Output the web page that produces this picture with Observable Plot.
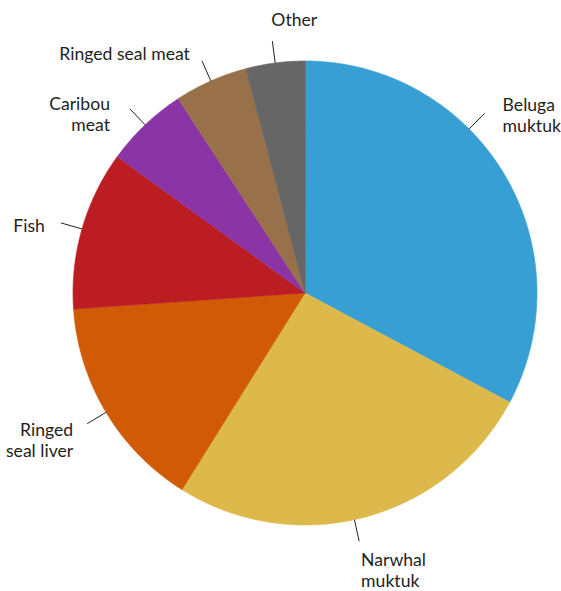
<!DOCTYPE html>
<html><head><meta charset="utf-8">
<script src="https://cdn.jsdelivr.net/npm/d3@7"></script>
<script src="https://cdn.jsdelivr.net/npm/@observablehq/plot@0.6"></script>
<style>html,body{margin:0;padding:0;background:#fff}#chart svg{display:block}</style>
</head><body><div id="chart"></div>
<script>
// ---- data ----
const categories = ["Beluga muktuk","Narwhal muktuk","Ringed seal liver","Fish","Caribou meat","Ringed seal meat","Other"];
const labelTexts = ["Beluga\nmuktuk","Narwhal\nmuktuk","Ringed\nseal liver","Fish","Caribou\nmeat","Ringed seal meat","Other"];
const values = [32.8, 26.1, 15.0, 11.1, 5.8, 5.1, 4.1];
const colors = ["#379fd3","#ddb84b","#d15a06","#bc1d23","#8a34a6","#98714a","#666666"];

// ---- layout ----
const W = 561, H = 591, CX = 304.5, CY = 292.5, R = 232, LEAD = 22, FS = 17.6, LH = 21.2, BASE_FIX = -3;
const layout = {
  "Beluga muktuk":    {angle: 45,    anchor: "start", dx: 18,  dy: -2},
  "Narwhal muktuk":   {angle: 167.7, anchor: "start", dx: 2,   dy: 25},
  "Ringed seal liver":{anchor: "end",   dx: -14, dy: 13},
  "Fish":             {anchor: "end",   dx: -16, dy: 10},
  "Caribou meat":     {anchor: "end",   dx: -20, dy: 1},
  "Ringed seal meat": {anchor: "end",   dx: -12, dy: 0},
  "Other":            {anchor: "start", dx: -1,  dy: -15}
};

const arcs = d3.pie().sort(null).value(d => d)(values);
const polyPts = [];
const leaders = [];
const labels = [];
arcs.forEach((a, i) => {
  const k = categories[i];
  polyPts.push({k, x: 0, y: 0});
  const steps = Math.max(2, Math.ceil((a.endAngle - a.startAngle) / (Math.PI / 360)));
  for (let s = 0; s <= steps; s++) {
    const t = a.startAngle + (a.endAngle - a.startAngle) * s / steps;
    polyPts.push({k, x: R * Math.sin(t), y: R * Math.cos(t)});
  }
  const L = layout[k];
  const m = L.angle != null ? L.angle * Math.PI / 180 : (a.startAngle + a.endAngle) / 2;
  const x2 = (R + LEAD) * Math.sin(m), y2 = (R + LEAD) * Math.cos(m);
  leaders.push({x1: R * Math.sin(m), y1: R * Math.cos(m), x2, y2});
  const baselineUp = y2 - L.dy - BASE_FIX;
  labels.push({k, text: labelTexts[i], anchor: L.anchor, x: x2 + L.dx, y: baselineUp + 0.71 * FS});
});

const textOpts = a => ({x: "x", y: "y", text: "text", textAnchor: a, lineAnchor: "top",
  lineHeight: LH / FS, fontSize: FS, fill: "#231f20"});

const chart = Plot.plot({
  width: W, height: H, margin: 0,
  x: {domain: [-CX, W - CX], axis: null},
  y: {domain: [-(H - CY), CY], axis: null},
  color: {domain: categories, range: colors},
  style: {fontFamily: "Lato, 'Open Sans', sans-serif", background: "white"},
  marks: [
    Plot.line(polyPts, {x: "x", y: "y", z: "k", fill: "k", stroke: "k", strokeWidth: 0.6, curve: "linear-closed"}),
    Plot.link(leaders, {x1: "x1", y1: "y1", x2: "x2", y2: "y2", stroke: "#231f20", strokeWidth: 1}),
    Plot.text(labels.filter(d => d.anchor === "start"), textOpts("start")),
    Plot.text(labels.filter(d => d.anchor === "end"), textOpts("end"))
  ]
});
document.getElementById("chart").appendChild(chart);
</script>
</body></html>
